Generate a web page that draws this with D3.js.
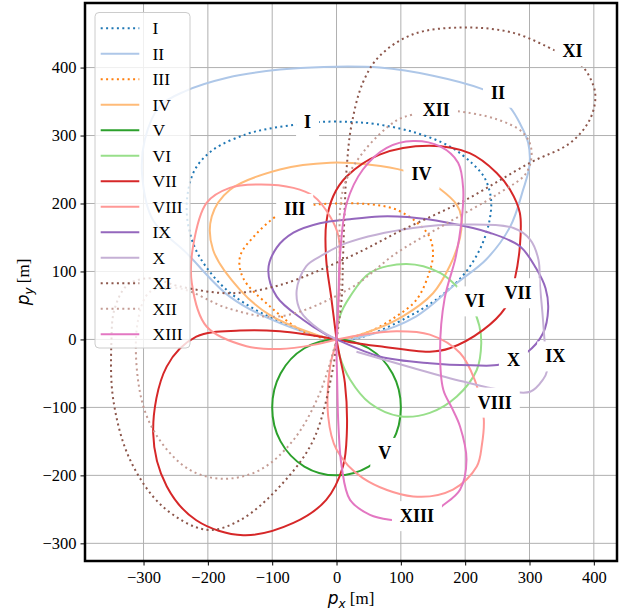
<!DOCTYPE html>
<html>
<head>
<meta charset="utf-8">
<script src="https://cdn.jsdelivr.net/npm/d3@7/dist/d3.min.js"></script>
<style>
  body { margin: 0; background: #fff; }
  svg { display: block; font-family: "Liberation Serif", "Times New Roman", serif; }
</style>
</head>
<body>
<script>
// trajectory names, colours and line styles
const names = ["I", "II", "III", "IV", "V", "VI", "VII", "VIII", "IX", "X", "XI", "XII", "XIII"];
const colors = ["#1f77b4", "#aec7e8", "#ff7f0e", "#ffbb78", "#2ca02c", "#98df8a", "#d62728",
                "#ff9896", "#9467bd", "#c5b0d5", "#8c564b", "#c49c94", "#e377c2"];
const dotted = [true, false, true, false, false, false, false, false, false, false, true, true, false];
const closed = [true, true, true, true, true, true, false, false, true, false, false, false, false];

// points, [px, py] in metres
const trajI = [[0,0],[41,4],[109,32],[161,63],[200,98],[225,137],[238,176],[240,208],[230,238],[212,258],[176,284],[120,305],[60,317],[21,320],[-26,320],[-62,316],[-100,311],[-140,302],[-192,279],[-220,250],[-232,210],[-230,165],[-212,120],[-166,69],[-88,26]];
const trajII = [[0,0],[52,7],[124,34],[187,83],[233,118],[270,166],[290,220],[300,256],[298,289],[285,318],[270,341],[250,358],[228,368],[150,388],[67,400],[-20,401],[-88,397],[-170,385],[-236,365],[-275,343],[-298,294],[-302,240],[-285,175],[-233,127],[-166,63],[-88,24]];
const trajIII = [[0,0],[52,12],[93,34],[124,58],[143,95],[150,125],[145,150],[130,168],[93,191],[50,199],[0,200],[-36,198],[-65,194],[-91,183],[-125,155],[-150,122],[-145,90],[-104,49],[-52,12]];
const trajIV = [[0,0],[52,12],[103,34],[150,68],[176,108],[192,150],[194,180],[187,198],[160,222],[132,238],[106,248],[52,257],[-10,260],[-88,250],[-166,220],[-194,181],[-192,132],[-150,73],[-104,36],[-47,12]];
const trajV = [[0,0],[50,-13],[87,-50],[100,-100],[87,-150],[50,-187],[0,-200],[-50,-187],[-87,-150],[-100,-100],[-87,-50],[-50,-13]];
const trajVI = [[0,0],[5,34],[21,63],[52,98],[109,111],[161,98],[189,76],[210,50],[222,20],[225,-5],[218,-45],[187,-84],[145,-108],[98,-113],[52,-94],[21,-59],[5,-25]];
const trajVII = [[0,0],[-8,60],[-16,117],[-16,171],[-5,211],[16,240],[67,272],[145,285],[207,274],[249,245],[270,220],[285,186],[285,137],[277,88],[270,65],[262,46],[228,14],[176,-13],[145,-18],[67,-10],[21,-4],[0,0],[-88,12],[-150,13],[-218,4],[-264,-40],[-285,-138],[-264,-216],[-218,-266],[-145,-288],[-67,-270],[-16,-236],[10,-187],[16,-138],[13,-64],[5,-25],[0,0]];
const trajVIII = [[0,0],[41,7],[93,12],[145,7],[192,-20],[215,-60],[225,-96],[229,-118],[226,-155],[218,-187],[181,-221],[119,-231],[41,-204],[0,-162],[-13,-113],[-10,-40],[0,0],[3,60],[5,110],[3,152],[-10,181],[-36,211],[-67,223],[-119,228],[-166,223],[-202,201],[-223,137],[-225,83],[-202,19],[-140,-10],[-88,-14],[-36,-8],[0,0]];
const trajIX = [[0,0],[67,-25],[145,-35],[210,-38],[254,-37],[295,-20],[321,9],[329,45],[325,75],[310,105],[285,137],[238,157],[171,172],[110,180],[67,181],[21,177],[-26,171],[-67,157],[-93,135],[-106,103],[-93,63],[-52,29],[-16,7]];
const trajX = [[31,-18],[119,-42],[197,-62],[254,-74],[301,-77],[321,-59],[327,-47],[326,-25],[324,-8],[320,40],[316,83],[314,117],[301,147],[275,164],[202,169],[119,164],[16,142],[-20,125],[-47,108],[-62,72],[-55,40],[-26,14],[0,0]];
const trajXI = [[0,0],[8,60],[10,117],[13,200],[16,255],[23,314],[41,378],[67,417],[119,449],[197,459],[275,451],[342,424],[367,412],[384,400],[402,363],[394,324],[363,289],[301,260],[202,206],[100,160],[21,122],[-88,80],[-166,68],[-244,78],[-290,90],[-325,80],[-345,45],[-350,-5],[-347,-89],[-321,-177],[-270,-246],[-202,-280],[-150,-266],[-88,-216],[-36,-148],[-5,-40],[0,0]];
const trajXII = [[0,0],[5,60],[5,117],[10,220],[41,275],[93,322],[119,331],[156,338],[187,336],[249,324],[290,304],[303,279],[295,245],[254,216],[170,170],[93,127],[21,75],[-88,34],[-166,45],[-244,75],[-290,70],[-310,20],[-303,-89],[-275,-148],[-228,-192],[-176,-205],[-119,-192],[-67,-148],[-26,-79],[0,0]];
const trajXIII = [[110,-268],[88,-266],[52,-258],[21,-236],[8,-187],[3,-128],[1,-60],[0,0],[3,60],[5,117],[16,201],[41,250],[78,282],[119,292],[161,284],[189,260],[197,220],[194,171],[185,120],[168,60],[161,-15],[166,-74],[179,-100],[192,-128],[202,-177],[192,-221],[163,-246],[150,-256]];
const trajectories = [trajI, trajII, trajIII, trajIV, trajV, trajVI, trajVII, trajVIII, trajIX, trajX, trajXI, trajXII, trajXIII];

// where each inline label sits (data coords)
const labelPos = [[-45,320],[251,363],[-65,192],[132,243],[75,-167],[215,56],[282,68],[246,-93],[340,-25],[275,-30],[367,424],[155,338],[125,-260]];

const xTicks = [-300, -200, -100, 0, 100, 200, 300, 400];
const yTicks = [-300, -200, -100, 0, 100, 200, 300, 400];

const W = 627, H = 613;
const plot = { left: 85, right: 617, top: 3, bottom: 561 };
const serif = "'Liberation Serif', 'Times New Roman', serif";

const x = d3.scaleLinear().domain([-391, 436]).range([plot.left, plot.right]);
const y = d3.scaleLinear().domain([-326, 495]).range([plot.bottom, plot.top]);

const svg = d3.select("body").append("svg")
    .attr("width", W)
    .attr("height", H);

// grid
svg.append("g").selectAll("line").data(xTicks).enter().append("line")
    .attr("x1", d => x(d)).attr("x2", d => x(d))
    .attr("y1", plot.top).attr("y2", plot.bottom)
    .attr("stroke", "#b0b0b0").attr("stroke-width", 1);
svg.append("g").selectAll("line").data(yTicks).enter().append("line")
    .attr("x1", plot.left).attr("x2", plot.right)
    .attr("y1", d => y(d)).attr("y2", d => y(d))
    .attr("stroke", "#b0b0b0").attr("stroke-width", 1);

// clip to the axes
svg.append("clipPath").attr("id", "clip").append("rect")
    .attr("x", plot.left).attr("y", plot.top)
    .attr("width", plot.right - plot.left).attr("height", plot.bottom - plot.top);

const curves = svg.append("g").attr("clip-path", "url(#clip)");
trajectories.forEach((pts, i) => {
    const line = d3.line()
        .x(d => x(d[0]))
        .y(d => y(d[1]))
        .curve(closed[i] ? d3.curveCatmullRomClosed.alpha(0.5) : d3.curveCatmullRom.alpha(0.5));
    curves.append("path")
        .attr("d", line(pts))
        .attr("fill", "none")
        .attr("stroke", colors[i])
        .attr("stroke-width", 2)
        .attr("stroke-dasharray", dotted[i] ? "2,3.4" : null);
});

// inline labels with white boxes
const labels = svg.append("g");
names.forEach((name, i) => {
    const g = labels.append("g");
    const cx = x(labelPos[i][0]), cy = y(labelPos[i][1]);
    const rect = g.append("rect").attr("fill", "#fff");
    const t = g.append("text")
        .attr("x", cx).attr("y", cy)
        .attr("text-anchor", "middle")
        .attr("dominant-baseline", "central")
        .style("font-family", serif)
        .style("font-size", "18px")
        .style("font-weight", "bold")
        .text(name);
    const w = t.node().getComputedTextLength();
    rect.attr("x", cx - w / 2 - 8).attr("y", cy - 15)
        .attr("width", w + 16).attr("height", 30);
});

// frame
svg.append("rect")
    .attr("x", plot.left).attr("y", plot.top)
    .attr("width", plot.right - plot.left).attr("height", plot.bottom - plot.top)
    .attr("fill", "none").attr("stroke", "#000").attr("stroke-width", 2.5);

// ticks
const fmt = d => d < 0 ? "\u2212" + Math.abs(d) : "" + d;
const xAxis = svg.append("g").attr("transform", `translate(0,${plot.bottom + 1})`)
    .call(d3.axisBottom(x).tickValues(xTicks).tickFormat(fmt).tickSizeOuter(0).tickSize(3.5).tickPadding(6));
const yAxis = svg.append("g").attr("transform", `translate(${plot.left - 1},0)`)
    .call(d3.axisLeft(y).tickValues(yTicks).tickFormat(fmt).tickSizeOuter(0).tickSize(3.5).tickPadding(4));
[xAxis, yAxis].forEach(a => {
    a.attr("font-family", serif).attr("font-size", 16.5);
    a.select(".domain").remove();
    a.selectAll("text").style("font-size", "16.5px").style("font-family", serif).attr("fill", "#000");
    a.selectAll("line").attr("stroke", "#000");
});

// axis labels
const xl = svg.append("text")
    .attr("x", (plot.left + plot.right) / 2).attr("y", 604)
    .attr("text-anchor", "middle")
    .style("font-family", serif)
    .style("font-size", "17px");
xl.append("tspan").style("font-family", "'DejaVu Sans', sans-serif").style("font-style", "italic").text("p");
xl.append("tspan").style("font-family", "'DejaVu Sans', sans-serif").style("font-style", "italic")
    .style("font-size", "12px").attr("dy", 4).text("x");
xl.append("tspan").attr("dy", -4).text(" [m]");

const yl = svg.append("text")
    .attr("transform", `translate(29,${(plot.top + plot.bottom) / 2}) rotate(-90)`)
    .attr("text-anchor", "middle")
    .style("font-family", serif)
    .style("font-size", "17px");
yl.append("tspan").style("font-family", "'DejaVu Sans', sans-serif").style("font-style", "italic").text("p");
yl.append("tspan").style("font-family", "'DejaVu Sans', sans-serif").style("font-style", "italic")
    .style("font-size", "12px").attr("dy", 4).text("y");
yl.append("tspan").attr("dy", -4).text(" [m]");

// legend
const legend = svg.append("g");
legend.append("rect")
    .attr("x", 95).attr("y", 12.5)
    .attr("width", 95).attr("height", 335.5)
    .attr("rx", 4)
    .attr("fill", "#fff").attr("fill-opacity", 0.8)
    .attr("stroke", "#cccccc").attr("stroke-width", 1);
names.forEach((name, i) => {
    const ly = 28.3 + 25.5 * i;
    legend.append("line")
        .attr("x1", 100.7).attr("x2", 139.3)
        .attr("y1", ly).attr("y2", ly)
        .attr("stroke", colors[i]).attr("stroke-width", 2)
        .attr("stroke-dasharray", dotted[i] ? "2,3.4" : null);
    legend.append("text")
        .attr("x", 152.5).attr("y", ly)
        .attr("dominant-baseline", "central")
        .style("font-family", serif)
        .style("font-size", "17.5px")
        .text(name);
});
</script>
</body>
</html>
